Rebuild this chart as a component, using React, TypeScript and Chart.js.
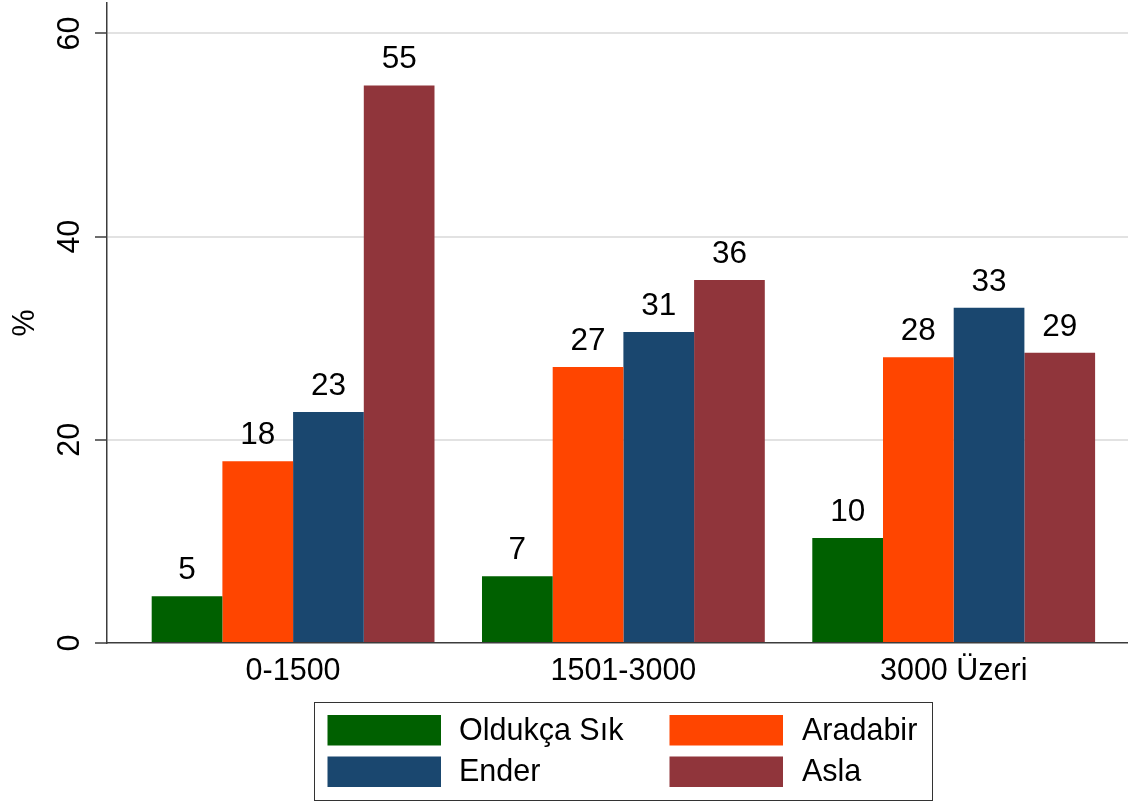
import React, { useEffect, useRef } from "react";
import { Chart, registerables } from "chart.js";

Chart.register(...registerables);

// ---- data ----
const categories = ["0-1500", "1501-3000", "3000 Üzeri"];
const seriesNames = ["Oldukça Sık", "Aradabir", "Ender", "Asla"];
const oldukcaSik = [4.59, 6.56, 10.34];
const aradabir = [17.88, 27.17, 28.12];
const ender = [22.74, 30.62, 33.01];
const asla = [54.89, 35.74, 28.58];
const yTickValues = [0, 20, 40, 60];
const yAxisTitle = "%";

const seriesValues = [oldukcaSik, aradabir, ender, asla];
const seriesColors = ["#006000", "#FF4500", "#1A476F", "#90353B"];

const FONT = "'Liberation Sans', Arial, sans-serif";
const AXIS = "#3c3c3c";
const GRID = "#e2e2e2";

const barLabelPlugin = {
  id: "barLabels",
  afterDatasetsDraw(chart: any) {
    const ctx = chart.ctx;
    ctx.save();
    ctx.font = `31.5px ${FONT}`;
    ctx.fillStyle = "#000";
    ctx.textAlign = "center";
    ctx.textBaseline = "alphabetic";
    chart.data.datasets.forEach((ds: any, i: number) => {
      const meta = chart.getDatasetMeta(i);
      meta.data.forEach((bar: any, j: number) => {
        const v = ds.data[j].y;
        ctx.fillText(String(Math.round(v)), bar.x, bar.y - 17);
      });
    });
    ctx.restore();
  },
};

const boxLegendPlugin = {
  id: "boxLegend",
  afterDraw(chart: any) {
    const ctx = chart.ctx;
    ctx.save();
    // frame
    ctx.strokeStyle = "#333";
    ctx.lineWidth = 1;
    ctx.strokeRect(314.5, 702.5, 618, 98);
    const swatchX = [327.5, 669.5];
    const textX = [459, 802];
    const rowTop = [715, 756.5];
    const swW = 113.5;
    const swH = 30.5;
    ctx.font = `30.5px ${FONT}`;
    ctx.textAlign = "left";
    ctx.textBaseline = "middle";
    chart.data.datasets.forEach((ds: any, i: number) => {
      const col = i % 2;
      const row = Math.floor(i / 2);
      ctx.fillStyle = ds.backgroundColor;
      ctx.fillRect(swatchX[col], rowTop[row], swW, swH);
      ctx.fillStyle = "#000";
      ctx.fillText(ds.label, textX[col], rowTop[row] + swH / 2 + 1);
    });
    ctx.restore();
  },
};

export default function App() {
  const canvasRef = useRef<HTMLCanvasElement | null>(null);

  useEffect(() => {
    if (!canvasRef.current) return;
    const datasets = seriesNames.map((name, i) => ({
      label: name,
      data: categories.map((_, j) => ({ x: j, y: seriesValues[i][j] })),
      backgroundColor: seriesColors[i],
      borderWidth: 0,
      categoryPercentage: 0.8562,
      barPercentage: 1,
    }));

    const chart = new Chart(canvasRef.current, {
      type: "bar",
      data: { datasets },
      plugins: [barLabelPlugin, boxLegendPlugin],
      options: {
        responsive: false,
        maintainAspectRatio: false,
        animation: false,
        devicePixelRatio: 1,
        layout: { padding: { top: 3, left: 0, right: 0, bottom: 0 } },
        plugins: {
          legend: { display: false },
          tooltip: { enabled: false },
        },
        scales: {
          x: {
            type: "linear",
            min: -0.5634,
            max: 2.5277,
            offset: false,
            z: 1,
            afterBuildTicks: (s: any) => {
              s.ticks = categories.map((_, i) => ({ value: i }));
            },
            afterFit: (s: any) => {
              s.height = 158;
              s.paddingLeft = 0;
              s.paddingRight = 0;
            },
            grid: { display: false, drawTicks: false },
            border: { display: true, color: AXIS, width: 1.5 },
            ticks: {
              autoSkip: false,
              maxRotation: 0,
              minRotation: 0,
              padding: 10,
              color: "#000",
              font: { family: FONT, size: 30.5 },
              callback: (v: any) => categories[v as number] ?? "",
            },
          },
          y: {
            type: "linear",
            min: 0,
            max: 63,
            afterBuildTicks: (s: any) => {
              s.ticks = yTickValues.map((v) => ({ value: v }));
            },
            afterFit: (s: any) => {
              s.width = 107;
              s.paddingTop = 0;
              s.paddingBottom = 0;
            },
            grid: {
              color: (c: any) =>
                c.tick && c.tick.value === 0 ? "rgba(0,0,0,0)" : GRID,
              lineWidth: 2,
              tickColor: AXIS,
              tickLength: 12,
              tickWidth: 1.5,
            },
            border: { display: true, color: AXIS, width: 1.5 },
            ticks: {
              minRotation: 90,
              maxRotation: 90,
              crossAlign: "center",
              padding: 7,
              color: "#000",
              font: { family: FONT, size: 30.5 },
              callback: (v: any) => String(v),
            },
            title: {
              display: true,
              text: yAxisTitle,
              color: "#000",
              font: { family: FONT, size: 30.5 },
              padding: { top: 7, bottom: 0 },
            },
          },
        },
      } as any,
    });
    return () => chart.destroy();
  }, []);

  return (
    <div
      style={{
        position: "absolute",
        left: 0,
        top: 0,
        width: 1128,
        height: 801,
        background: "#fff",
      }}
    >
      <canvas
        ref={canvasRef}
        width={1128}
        height={801}
        style={{ display: "block", width: 1128, height: 801 }}
      />
    </div>
  );
}
